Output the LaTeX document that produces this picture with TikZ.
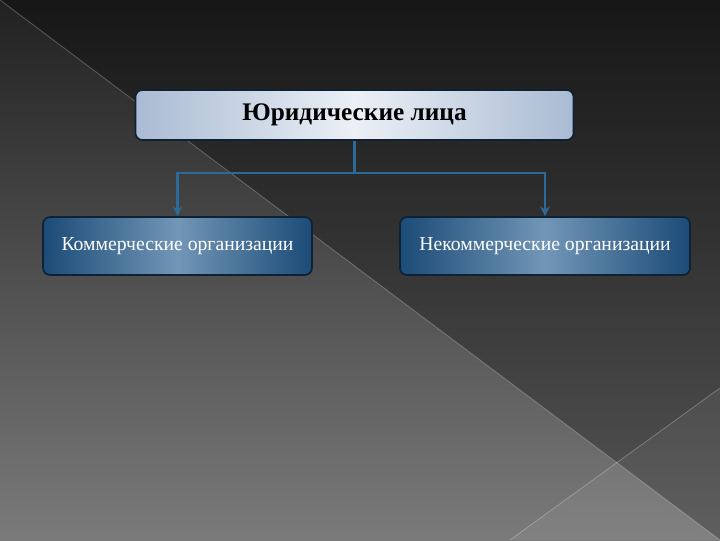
\documentclass[tikz,border=0pt]{standalone}
\usepackage{fontspec}
\setmainfont{Liberation Serif}
\usetikzlibrary{arrows}
\definecolor{headedge}{HTML}{A9BBD3}
\definecolor{headmid}{HTML}{ECF0F6}
\definecolor{kindedge}{HTML}{1B4B77}
\definecolor{kindmid}{HTML}{7296B6}
\definecolor{rim}{HTML}{0F2233}
\definecolor{linkblue}{HTML}{2C6A9A}
\tikzstyle{head} = [rectangle, rounded corners=5pt,
minimum width=10.95cm,
minimum height=1.25cm,
text centered,
draw=rim, line width=1.2pt,
left color=headedge, right color=headedge, middle color=headmid,
font=\bfseries\fontsize{18}{20}\selectfont]
\tikzstyle{kind} = [rectangle, rounded corners=5pt,
minimum height=1.45cm,
text centered,
draw=rim, line width=1.2pt,
left color=kindedge, right color=kindedge, middle color=kindmid,
text=white,
font=\fontsize{14}{16}\selectfont]
\tikzstyle{link} = [line width=2.1pt, draw=linkblue]
\tikzstyle{arrow} = [link,->,>=stealth]
\tikzstyle{seam} = [white, opacity=0.25, line width=0.6pt]

\begin{document}
\begin{tikzpicture}[x=0.025cm, y=-0.025cm]
				\useasboundingbox (0,0) rectangle (720,540);
				% background
				\fill[top color=black!87, middle color=black!76, bottom color=black!52] (0,0) rectangle (720,540);
				\fill[black, opacity=0.3] (0,0) -- (720,0) -- (720,540) -- cycle;
				\fill[white, opacity=0.06] (510,540) -- (720,388) -- (720,540) -- cycle;
				\draw[seam] (0,0) -- (720,540);
				\draw[seam] (510,540) -- (720,388);

				\node[head] (legal) at (354.5,115) {Юридические лица};
				\node[kind, minimum width=6.72cm] (com) at (177.5,246) {Коммерческие организации};
				\node[kind, minimum width=7.25cm] (noncom) at (545,246) {Некоммерческие организации};
				\coordinate (fork) at (354.5,173);

				\draw[link] (legal) -- (fork);
				\draw[arrow] (fork) -| (com);
				\draw[arrow] (fork) -| (noncom);
			\end{tikzpicture}
\end{document}
